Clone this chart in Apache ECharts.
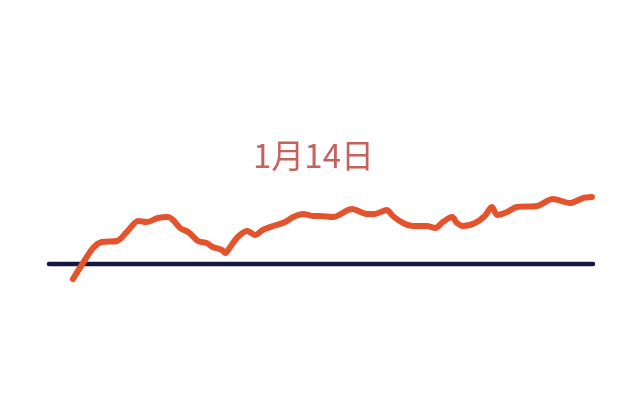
<!DOCTYPE html>
<html><head><meta charset="utf-8">
<script src="https://cdn.jsdelivr.net/npm/echarts@6/dist/echarts.min.js"></script>
<style>html,body{margin:0;padding:0;background:#fff}#c{width:640px;height:414px}</style>
</head><body><div id="c"></div>
<script>
const titleText = '1月14日';
const xValues = [4.4,6.25,8.1,9.7,12.5,14.3,16.4,18.0,20.0,21.9,22.8,24.1,25.6,27.4,29.0,30.1,31.8,32.4,33.3,34.7,36.4,36.9,37.9,39.3,41.2,43.4,44.9,46.7,48.5,49.8,52.2,55.7,58.5,59.9,62.1,63.2,65.1,66.9,69.5,71.0,72.4,74.1,75.0,76.1,78.3,80.1,81.4,82.4,84.2,86.0,89.7,92.6,95.8,98.2,99.8];
const yValues = [-15,1,16,22,23,32,43,42,46,47,44,36,32,23,21,17,14,11,17,27,33,32,29,34,38,42,47,50,48,48,47,55,50,50,54,48,41,38,38,36,42,47,41,38,41,48,57,49,52,57,58,65,61,66,67];
const baseX = [0,100];
const baseY = [0,0];

const lineData = xValues.map((x,i)=>[x,yValues[i]]);
const baseData = baseX.map((x,i)=>[x,baseY[i]]);

const chart = echarts.init(document.getElementById('c'));
chart.setOption({
  backgroundColor:'#ffffff',
  animation:false,
  title:{text:titleText,left:248,top:134,textStyle:{color:'#c4625e',fontSize:33,fontWeight:'normal',fontFamily:'Noto Sans CJK SC'}},
  grid:{left:49,right:47,top:184,height:100},
  xAxis:{type:'value',min:0,max:100,show:false},
  yAxis:{type:'value',min:-20,max:80,show:false},
  series:[
    {type:'line',data:baseData,symbol:'none',z:1,lineStyle:{color:'#17163f',width:4.5,cap:'round'}},
    {type:'line',data:lineData,symbol:'none',smooth:0.3,z:2,lineStyle:{color:'#e5532c',width:6,cap:'round',join:'round'}}
  ]
});
</script></body></html>
